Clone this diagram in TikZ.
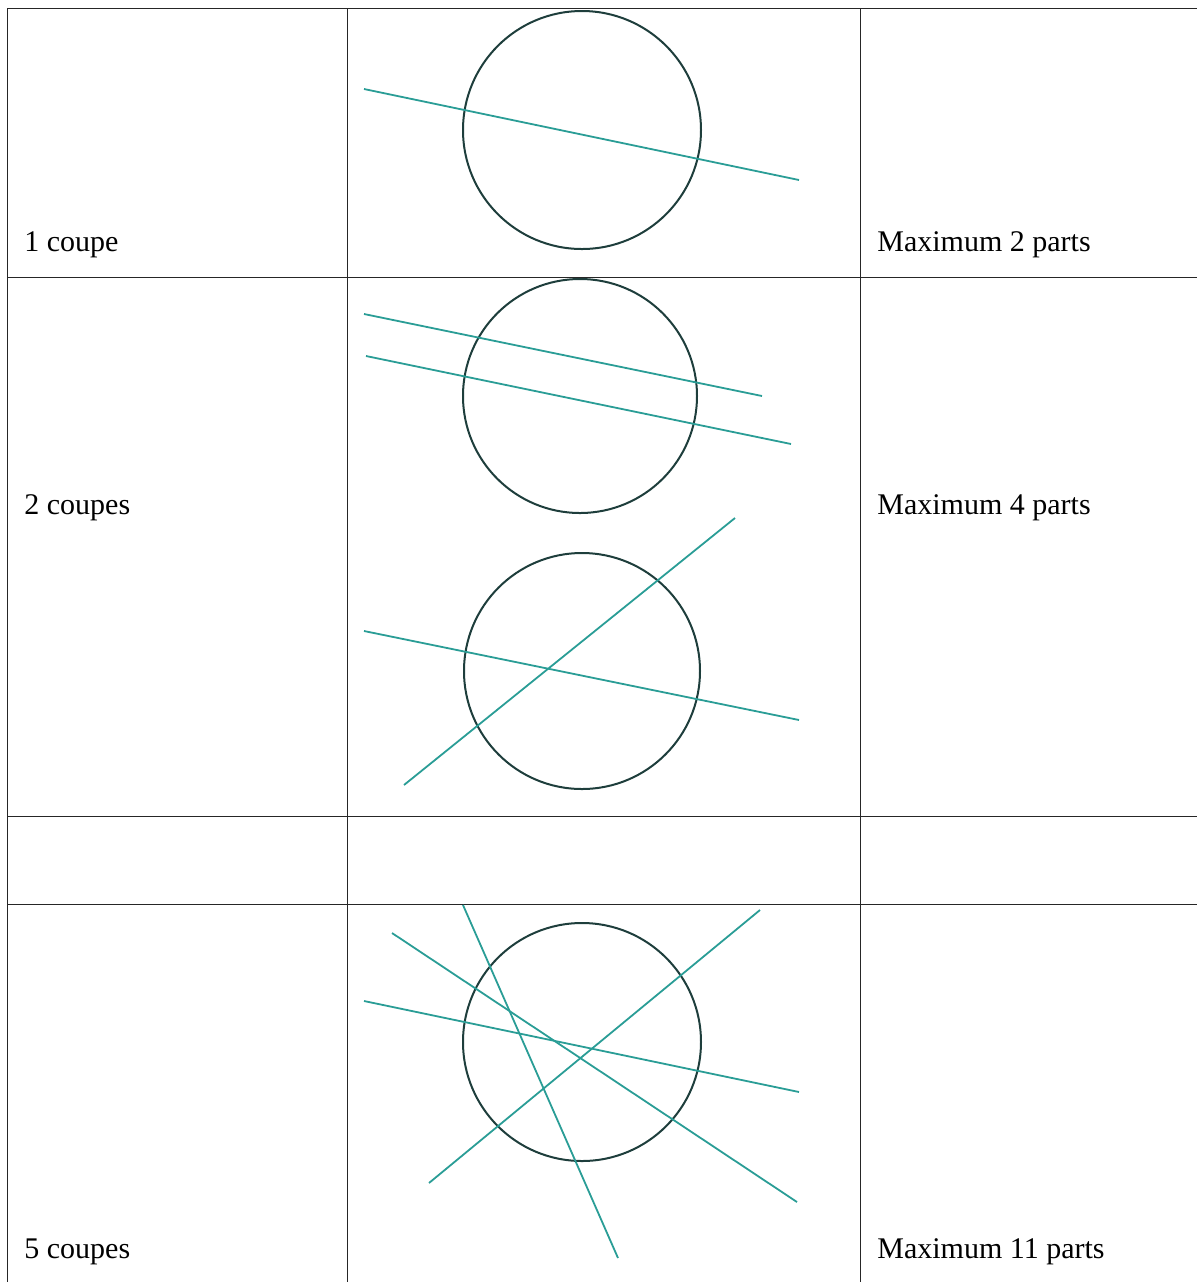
\documentclass[tikz,border=0pt]{standalone}
\usepackage{fontspec}
\setmainfont{Liberation Serif}
\usepackage{tikz}
\definecolor{cercle}{RGB}{30, 62, 60}
\definecolor{coupe}{RGB}{42, 157, 150}

\begin{document}
\begin{tikzpicture}[
      x=0.5pt, y=-0.5pt,
      grille/.style={draw=black!85, line width=0.5pt},
      gateau/.style={draw=cercle, line width=1pt},
      trait/.style={draw=coupe, line width=0.9pt},
      texte/.style={anchor=base west, inner sep=0pt, font=\fontsize{15}{18}\selectfont}
  ]
      \useasboundingbox (0,0) rectangle (1197,1282);

      % Tableau
      \draw[grille] (7,1282) -- (7,8) -- (1197,8);
      \draw[grille] (7,277) -- (1197,277);
      \draw[grille] (7,816) -- (1197,816);
      \draw[grille] (7,904) -- (1197,904);
      \draw[grille] (347,8) -- (347,1282);
      \draw[grille] (860,8) -- (860,1282);

      % Textes
      \node[texte] (c1) at (24,251) {1 coupe};
      \node[texte] (m1) at (877,251) {Maximum 2 parts};
      \node[texte] (c2) at (24,514) {2 coupes};
      \node[texte] (m2) at (877,514) {Maximum 4 parts};
      \node[texte] (c5) at (24,1258) {5 coupes};
      \node[texte] (m5) at (877,1258) {Maximum 11 parts};

      % 1 coupe
      \draw[gateau] (582,130) circle[radius=119];
      \draw[trait] (364,89) -- (799,180);

      % 2 coupes paralleles
      \draw[gateau] (580,396) circle[radius=117];
      \draw[trait] (364,314) -- (762,396);
      \draw[trait] (366,356) -- (791,444);

      % 2 coupes secantes
      \draw[gateau] (582,671) circle[radius=118];
      \draw[trait] (364,631) -- (799,720);
      \draw[trait] (404,785) -- (735,518);

      % 5 coupes
      \draw[gateau] (582,1042) circle[radius=119];
      \draw[trait] (364,1001) -- (799,1092);
      \draw[trait] (392,933) -- (797,1202);
      \draw[trait] (463,905) -- (618,1258);
      \draw[trait] (429,1183) -- (760,910);
  \end{tikzpicture}
\end{document}
